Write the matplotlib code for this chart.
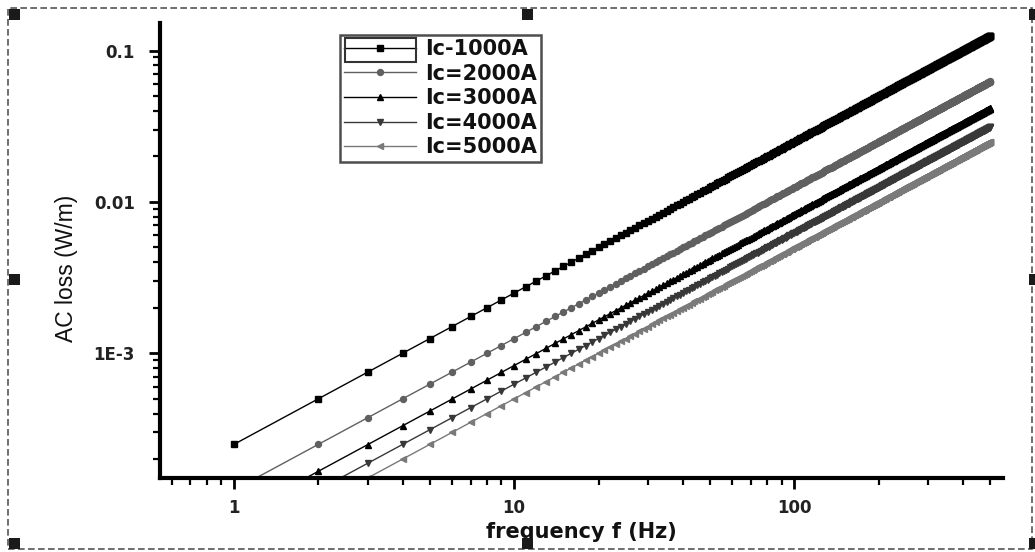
import numpy as np
import matplotlib
matplotlib.use("Agg")
import matplotlib.pyplot as plt
from matplotlib.patches import Rectangle
from matplotlib.ticker import FixedLocator, FuncFormatter, LogLocator, NullFormatter

# ---- data ----
labels = ["Ic-1000A", "Ic=2000A", "Ic=3000A", "Ic=4000A", "Ic=5000A"]
freq_hz = np.arange(1, 501)                    # sampled every 1 Hz, 1..500 Hz
loss_per_hz = [2.5e-4, 1.25e-4, 8.3e-5, 6.25e-5, 5.0e-5]   # W/m per Hz (loss grows linearly with f)
markers = ["s", "o", "^", "v", "<"]
marker_sizes = [4.8, 4.3, 4.8, 4.8, 4.6]
colors = ["#000000", "#606060", "#000000", "#383838", "#7a7a7a"]
y_ticks = [1e-3, 1e-2, 1e-1]
y_tick_labels = ["1E-3", "0.01", "0.1"]
x_ticks = [1, 10, 100]
x_tick_labels = ["1", "10", "100"]

W, H = 1035, 552
fig = plt.figure(figsize=(W / 100, H / 100), dpi=100)
ax = fig.add_axes([160 / W, 1 - 478 / H, (1003 - 160) / W, (478 - 23) / H])

for k, lab, m, ms, c in zip(loss_per_hz, labels, markers, marker_sizes, colors):
    ax.plot(freq_hz, k * freq_hz, color=c, lw=1.0, marker=m, ms=ms,
            mec=c, mfc=c, label=lab)

ax.set_xscale("log")
ax.set_yscale("log")
ax.set_xlim(0.545, 555)
ax.set_ylim(1.5e-4, 0.152)

for s in ["top", "right"]:
    ax.spines[s].set_visible(False)
for s in ["left", "bottom"]:
    ax.spines[s].set_linewidth(3)

ytl = dict(zip(y_ticks, y_tick_labels))
ax.xaxis.set_major_locator(FixedLocator(x_ticks))
ax.xaxis.set_major_formatter(FuncFormatter(
    lambda v, p: x_tick_labels[x_ticks.index(int(round(v)))] if int(round(v)) in x_ticks else ""))
ax.yaxis.set_major_locator(FixedLocator(y_ticks))
ax.yaxis.set_major_formatter(FuncFormatter(
    lambda v, p: ytl[min(y_ticks, key=lambda t: abs(np.log10(t) - np.log10(v)))]))
ax.xaxis.set_minor_locator(LogLocator(base=10, subs=np.arange(2, 10)))
ax.yaxis.set_minor_locator(LogLocator(base=10, subs=np.arange(2, 10)))
ax.xaxis.set_minor_formatter(NullFormatter())
ax.yaxis.set_minor_formatter(NullFormatter())
ax.tick_params(which="major", direction="out", length=8, width=2)
ax.tick_params(axis="y", which="major", pad=10)
ax.tick_params(axis="x", which="major", pad=7)
ax.tick_params(which="minor", direction="out", length=5, width=1.6)
for t in ax.get_xticklabels() + ax.get_yticklabels():
    t.set_fontfamily("DejaVu Sans")
    t.set_fontweight("bold")
    t.set_fontsize(12)
    t.set_color("#222222")

ax.set_xlabel("frequency f (Hz)", fontsize=15, fontweight="bold",
              family="DejaVu Sans", color="#111111")
ax.xaxis.set_label_coords((581 - 160) / (1003 - 160), -(522 - 478) / (478 - 23))
ax.set_ylabel("AC loss (W/m)", fontsize=16.5, family=["Liberation Sans Narrow", "Liberation Sans"],
              color="#111111")
ax.yaxis.set_label_coords(-(160 - 78) / (1003 - 160), (478 - 268) / (478 - 23))

leg = ax.legend(loc="upper left", bbox_to_anchor=(340 / W, 1 - 35 / H),
                bbox_transform=fig.transFigure, frameon=True, fancybox=False,
                prop={"family": "DejaVu Sans", "weight": "bold", "size": 15},
                handlelength=3.45, handletextpad=0.45, labelspacing=0.22,
                borderpad=0.2, borderaxespad=0)
leg.get_frame().set_edgecolor("#222222")
leg.get_frame().set_linewidth(1.8)
for t in leg.get_texts():
    t.set_color("#111111")

# selection box around the first legend handle
fig.patches.append(Rectangle((345 / W, 1 - 62 / H), 71 / W, 24 / H,
                             transform=fig.transFigure, fill=False,
                             edgecolor="#333333", lw=1.5))

# dashed frame with selection handles
fig.patches.append(Rectangle((8 / W, 1 - 549 / H), (1032 - 8) / W, (549 - 8) / H,
                             transform=fig.transFigure, fill=False,
                             edgecolor="#555555", lw=1.2, ls=(0, (4, 2))))
hs = 11
for (hx, hy) in [(14, 14), (527, 14), (1034, 14), (14, 279), (1034, 279),
                 (14, 543), (527, 543), (1034, 543)]:
    fig.patches.append(Rectangle(((hx - hs / 2) / W, 1 - (hy + hs / 2) / H), hs / W, hs / H,
                                 transform=fig.transFigure, facecolor="#1a1a1a",
                                 edgecolor="none"))

fig.savefig("out.png", dpi=100)
